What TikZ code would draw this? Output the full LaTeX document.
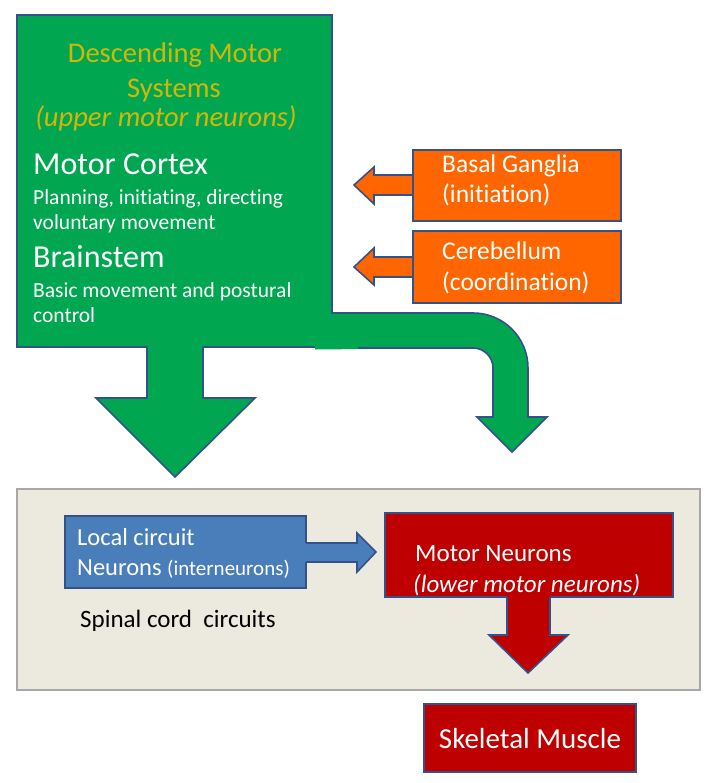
\documentclass[tikz,border=0pt]{standalone}
\usepackage{fontspec}
\setmainfont{Carlito}[Ligatures=NoCommon]
\definecolor{grn}{HTML}{00A650}
\definecolor{bord}{HTML}{34528A}
\definecolor{orng}{HTML}{FF6600}
\definecolor{redb}{HTML}{BE0000}
\definecolor{blub}{HTML}{4A7EBB}
\definecolor{spfill}{HTML}{ECE9DF}
\definecolor{spbord}{HTML}{A8A8A8}
\definecolor{gold}{HTML}{D2B70A}
\newcommand{\fs}[1]{\fontsize{#1}{#1}\selectfont}
\tikzset{
  x=1pt, y=-1pt,
  blk/.style={draw=bord, line width=1.6pt, inner sep=0pt, anchor=center},
  txt/.style={inner sep=0pt, anchor=base west, text=white},
  ctxt/.style={inner sep=0pt, anchor=base, text=white},
  edge/.style={draw=bord, line width=1.6pt, line join=miter},
}
\begin{document}
\begin{tikzpicture}
\useasboundingbox (0,0) rectangle (711,783);
% spinal cord box
\node[draw=spbord, fill=spfill, line width=2pt, minimum width=683pt, minimum height=201pt, inner sep=0pt] (spinal) at (358.5,589.5) {};
% green box
\node[blk, fill=grn, minimum width=315pt, minimum height=332pt] (dms) at (174.5,181) {};
% bent arrow
\fill[grn] (315,313) -- (473,313) .. controls (503.4,313) and (528,337.6) .. (528,368) -- (528,417) -- (547,417) -- (512,452) -- (477,417) -- (493,417) -- (493,368) .. controls (493,357) and (484,348) .. (473,348) -- (315,349.5) -- cycle;
\draw[edge] (331.2,313) -- (473,313) .. controls (503.4,313) and (528,337.6) .. (528,368) -- (528,417) -- (547,417) -- (512,452) -- (477,417) -- (493,417) -- (493,368) .. controls (493,357) and (484,348) .. (473,348) -- (358,348);
% main down arrow
\fill[grn] (147,344) -- (147,398) -- (96,398) -- (175,477) -- (255,398) -- (203,398) -- (203,344) -- cycle;
\draw[edge] (147,347) -- (147,398) -- (96,398) -- (175,477) -- (255,398) -- (203,398) -- (203,347);
% orange arrows
\draw[edge, fill=orng] (415,175) -- (374,175) -- (374,167) -- (354,185) -- (374,204) -- (374,195) -- (415,195) -- cycle;
\draw[edge, fill=orng] (415,257) -- (374,257) -- (374,248) -- (354,267) -- (374,285) -- (374,277) -- (415,277) -- cycle;
\node[blk, fill=orng, minimum width=208pt, minimum height=71pt] (bg) at (517,185.5) {};
\node[blk, fill=orng, minimum width=208pt, minimum height=72pt] (cb) at (517,267) {};
% blue box and arrow
\node[blk, fill=blub, minimum width=241pt, minimum height=72pt] (lc) at (185.5,552) {};
\fill[blub] (304,543) -- (357,543) -- (357,533) -- (376,552) -- (357,572) -- (357,562) -- (304,562) -- cycle;
\draw[edge] (306,543) -- (357,543) -- (357,533) -- (376,552) -- (357,572) -- (357,562) -- (306,562);
% motor neurons box and arrow
\node[blk, fill=redb, minimum width=288pt, minimum height=84pt] (mn) at (529,555) {};
\fill[redb] (507,594) -- (507,635) -- (489,635) -- (528,673) -- (568,635) -- (550,635) -- (550,594) -- cycle;
\draw[edge] (507,597) -- (507,635) -- (489,635) -- (528,673) -- (568,635) -- (550,635) -- (550,597);
% skeletal muscle
\node[blk, fill=redb, minimum width=212pt, minimum height=68pt] (sm) at (530,738) {};
% texts in green box
\node[ctxt, text=gold] (t1) at (175,63) {\fs{28.5}Descending Motor};
\node[ctxt, text=gold] (t2) at (174,98) {\fs{28.5}Systems};
\node[ctxt, text=gold] (t3) at (166,127) {\fs{28.5}\itshape (upper motor neurons)};
\node[txt] (t4) at (33,175) {\fs{32}Motor Cortex};
\node[txt] (t5) at (33,205) {\fs{21.5}Planning, initiating, directing};
\node[txt] (t6) at (33,230) {\fs{21.5}voluntary movement};
\node[txt] (t7) at (33,267) {\fs{32}Brainstem};
\node[txt] (t8) at (33,297) {\fs{21.5}Basic movement and postural};
\node[txt] (t9) at (33,322) {\fs{21.5}control};
% orange texts
\node[txt] (o1) at (442,173) {\fs{25.5}Basal Ganglia};
\node[txt] (o2) at (442,203) {\fs{25.5}(initiation)};
\node[txt] (o3) at (442,260) {\fs{25.5}Cerebellum};
\node[txt] (o4) at (442,290) {\fs{25.5}(coordination)};
% lower texts
\node[txt] (l1) at (77,545) {\fs{24.5}Local circuit};
\node[txt] (l2) at (77,575) {\fs{24.5}Neurons {\fs{21}(interneurons)}};
\node[txt, text=black] (sc) at (80,627) {\fs{25}Spinal cord\ \ circuits};
\node[txt] (m1) at (415,561) {\fs{25}Motor Neurons};
\node[txt] (m2) at (413,592) {\fs{25}\itshape (lower motor neurons)};
\node[ctxt] (s1) at (530,748) {\fs{29}Skeletal Muscle};
\end{tikzpicture}
\end{document}
